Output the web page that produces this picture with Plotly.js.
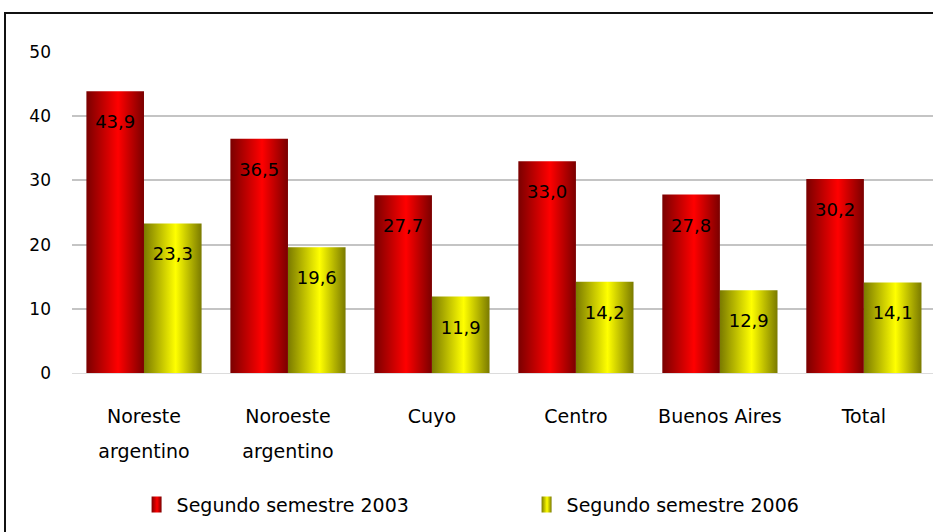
<!DOCTYPE html>
<html><head><meta charset="utf-8">
<script src="https://cdn.plot.ly/plotly-3.0.1.min.js"></script>
<style>
html,body{margin:0;padding:0;background:#fff;overflow:hidden;}
#wrap{position:relative;width:933px;height:532px;}
#frame{position:absolute;left:4px;top:12px;width:960px;height:560px;border-left:2px solid #111;border-top:2px solid #111;pointer-events:none;}
</style></head>
<body><div id="wrap"><div id="chart" style="width:933px;height:532px;"></div><div id="frame"></div></div>
<script>
const categories = ["Noreste<br>argentino","Noroeste<br>argentino","Cuyo","Centro","Buenos Aires","Total"];
const series2003 = [43.9, 36.5, 27.7, 33.0, 27.8, 30.2];
const series2006 = [23.3, 19.6, 11.9, 14.2, 12.9, 14.1];
const seriesNames = ["Segundo semestre 2003","Segundo semestre 2006"];
const yTicks = [0,10,20,30,40,50];

const FONT = "DejaVu Sans, Century Gothic, sans-serif";
const mk = (y, name, color) => ({
  type:'bar', x:categories, y:y, name:name,
  marker:{color:color, line:{width:0}},
  texttemplate:'%{y:.1f}', textposition:'inside', insidetextanchor:'end',
  textfont:{family:FONT, size:18, color:'#000'}, textangle:0,
  hoverinfo:'none', cliponaxis:false
});
const data = [mk(series2003, seriesNames[0], '#e00000'), mk(series2006, seriesNames[1], '#e0e000')];
const layout = {
  width:933, height:532, separators:',.',
  margin:{l:72, r:0, t:52, b:159},
  paper_bgcolor:'#fff', plot_bgcolor:'#fff',
  font:{family:FONT, color:'#000'},
  barmode:'group', bargap:0.2, bargroupgap:0,
  showlegend:true,
  legend:{orientation:'h', x:0.075, y:-0.41, yanchor:'middle', xanchor:'left',
          font:{family:FONT, size:19, color:'#000'}, entrywidth:345, entrywidthmode:'pixels',
          itemclick:false, itemdoubleclick:false},
  xaxis:{type:'category', range:[-0.5, 5.48], showgrid:false, zeroline:false, showline:false,
         ticks:'', tickfont:{family:FONT, size:19, color:'#000'}, ticklabelstandoff:30, fixedrange:true},
  yaxis:{range:[0,50], tickvals:yTicks, showgrid:true, gridcolor:'#c4c4c4', gridwidth:2,
         zeroline:true, zerolinecolor:'#dcdcdc', zerolinewidth:1, showline:false,
         ticks:'', tickfont:{family:FONT, size:17, color:'#000'}, fixedrange:true}
};
Plotly.newPlot('chart', data, layout, {staticPlot:true, displayModeBar:false}).then(gd => {
  const svg = gd.querySelector('svg.main-svg');
  const ns = 'http://www.w3.org/2000/svg';
  let defs = svg.querySelector('defs');
  const addGrad = (id, edge, mid) => {
    const g = document.createElementNS(ns,'linearGradient');
    g.setAttribute('id', id); g.setAttribute('x1','0'); g.setAttribute('x2','1'); g.setAttribute('y1','0'); g.setAttribute('y2','0');
    [[0,edge],[0.55,mid],[1,edge]].forEach(([o,c]) => {
      const s = document.createElementNS(ns,'stop'); s.setAttribute('offset', o); s.setAttribute('stop-color', c); g.appendChild(s);
    });
    defs.appendChild(g);
  };
  addGrad('gRed', '#7a0000', '#ff0000');
  addGrad('gYel', '#7a7a00', '#ffff00');
  const ids = ['gRed','gYel'];
  gd.querySelectorAll('.barlayer .trace.bars').forEach((t,i) => {
    t.querySelectorAll('.point path').forEach(p => { p.style.fill = 'url(#'+ids[i]+')'; });
    t.querySelectorAll('.bartext').forEach(tx => {
      const tr = tx.getAttribute('transform') || '';
      tx.setAttribute('transform', 'translate(0,17) ' + tr);
    });
  });
  gd.querySelectorAll('.legend .traces').forEach((t,i) => {
    t.querySelectorAll('.legendpoints path').forEach(p => {
      p.setAttribute('d', 'M-5,-8H5V8H-5Z');
      p.style.fill = 'url(#'+ids[i]+')';
    });
  });
  gd.querySelectorAll('.xtick text tspan.line').forEach(ts => {
    if (ts.getAttribute('dy') && parseFloat(ts.getAttribute('dy'))>0) ts.setAttribute('dy','35');
  });
  gd.querySelectorAll('.ytick').forEach(g => {
    const tr = g.getAttribute('transform') || '';
    g.setAttribute('transform', 'translate(-20,0) ' + tr);
  });
});
</script></body></html>
